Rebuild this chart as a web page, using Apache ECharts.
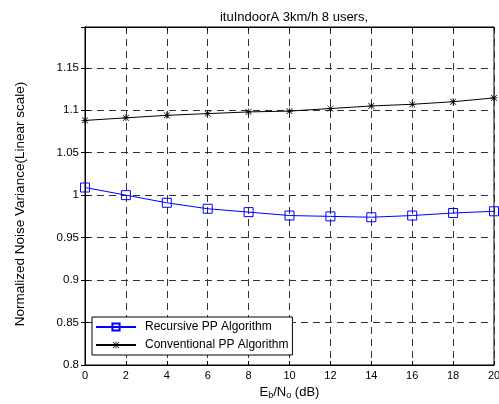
<!DOCTYPE html>
<html>
<head>
<meta charset="utf-8">
<script src="https://cdn.jsdelivr.net/npm/echarts@6/dist/echarts.min.js"></script>
<style>
  html, body { margin: 0; padding: 0; background: #fff; }
  #main { width: 499px; height: 404px; }
</style>
</head>
<body>
<div id="main"></div>
<script>
  var snrDb = [0, 2, 4, 6, 8, 10, 12, 14, 16, 18, 20];
  var recursivePP = [1.009, 1.000, 0.991, 0.984, 0.980, 0.976, 0.975, 0.974, 0.976, 0.979, 0.981];
  var conventionalPP = [1.088, 1.091, 1.094, 1.096, 1.098, 1.099, 1.102, 1.105, 1.107, 1.110, 1.1145];

  var pairs = function (xs, ys) {
    var res = [];
    for (var i = 0; i < xs.length; i++) {
      res.push([xs[i], ys[i]]);
    }
    return res;
  };

  // asterisk marker like matlab '*'
  var starPath = "path://M0 4.5L10 4.5L10 5.5L0 5.5Z M4.5 0L5.5 0L5.5 10L4.5 10Z " +
    "M1.2 0.5L9.5 8.8L8.8 9.5L0.5 1.2Z M8.8 0.5L9.5 1.2L1.2 9.5L0.5 8.8Z";

  var font = "Liberation Sans, Arial, sans-serif";
  var chart = echarts.init(document.getElementById("main"));

  var option = {
    backgroundColor: "#fff",
    animation: false,
    title: {
      text: "ituIndoorA 3km/h 8 users,",
      left: 289,
      top: 6,
      textAlign: "center",
      textStyle: { fontFamily: font, fontSize: 13, fontWeight: "normal", color: "#000" }
    },
    grid: {
      left: 85,
      right: 5,
      top: 27,
      bottom: 39,
      outerBoundsMode: "none",
      show: true,
      borderColor: "#000",
      borderWidth: 1,
      backgroundColor: "#fff"
    },
    legend: {
      orient: "vertical",
      left: 92,
      top: 317,
      backgroundColor: "#fff",
      borderColor: "#000",
      borderWidth: 1,
      padding: [4, 4, 4, 3],
      itemGap: 6,
      itemWidth: 40,
      itemHeight: 9,
      textStyle: { fontFamily: font, fontSize: 12, color: "#000", padding: [0, 0, 0, 4] },
      data: ["Recursive PP Algorithm", "Conventional PP Algorithm"]
    },
    xAxis: [
      {
        type: "value",
        min: 0,
        max: 20,
        interval: 2,
        name: "{n|E}{s|b}{n|/N}{s|o}{n| (dB)}",
        nameLocation: "middle",
        nameGap: 19,
        nameTextStyle: {
          rich: {
            n: { fontFamily: font, fontSize: 13, color: "#000" },
            s: { fontFamily: font, fontSize: 9, color: "#000", verticalAlign: "bottom", padding: [7, 0, 0, 0] }
          }
        },
        axisLine: { show: true, lineStyle: { color: "#000", width: 1 } },
        axisTick: { show: true, inside: true, length: 4, lineStyle: { color: "#000" } },
        axisLabel: { fontFamily: font, fontSize: 11, color: "#000", margin: 5 },
        splitLine: { show: true, lineStyle: { color: "#333", type: [7, 5], width: 1 } }
      },
      {
        type: "value",
        position: "top",
        min: 0,
        max: 20,
        interval: 2,
        axisLine: { show: true, lineStyle: { color: "#000" } },
        axisTick: { show: true, inside: true, length: 4, lineStyle: { color: "#000" } },
        axisLabel: { show: false },
        splitLine: { show: false }
      }
    ],
    yAxis: [
      {
        type: "value",
        min: 0.8,
        max: 1.198,
        interval: 0.05,
        name: "Normalized Noise Variance(Linear scale)",
        nameLocation: "middle",
        nameRotate: 90,
        nameGap: 58,
        nameTextStyle: { fontFamily: font, fontSize: 13.5, color: "#000", padding: [0, 16, 0, 0] },
        axisLine: { show: true, lineStyle: { color: "#000", width: 1 } },
        axisTick: { show: true, inside: true, length: 4, lineStyle: { color: "#000" } },
        axisLabel: { fontFamily: font, fontSize: 11.5, color: "#000", margin: 6, showMaxLabel: false },
        splitLine: { show: true, lineStyle: { color: "#333", type: [7, 5], width: 1 } }
      },
      {
        type: "value",
        position: "right",
        min: 0.8,
        max: 1.198,
        interval: 0.05,
        axisLine: { show: true, lineStyle: { color: "#000" } },
        axisTick: { show: true, inside: true, length: 4, lineStyle: { color: "#000" } },
        axisLabel: { show: false },
        splitLine: { show: false }
      }
    ],
    series: [
      {
        name: "Recursive PP Algorithm",
        type: "line",
        data: pairs(snrDb, recursivePP),
        symbol: "rect",
        symbolSize: 9,
        showAllSymbol: true,
        lineStyle: { color: "#0000ff", width: 1 },
        itemStyle: { color: "rgba(255,255,255,0)", borderColor: "#0000ff", borderWidth: 1 }
      },
      {
        name: "Conventional PP Algorithm",
        type: "line",
        data: pairs(snrDb, conventionalPP),
        symbol: starPath,
        symbolSize: 7,
        showAllSymbol: true,
        lineStyle: { color: "#000", width: 1 },
        itemStyle: { color: "#000" }
      }
    ]
  };

  chart.setOption(option);
</script>
</body>
</html>
